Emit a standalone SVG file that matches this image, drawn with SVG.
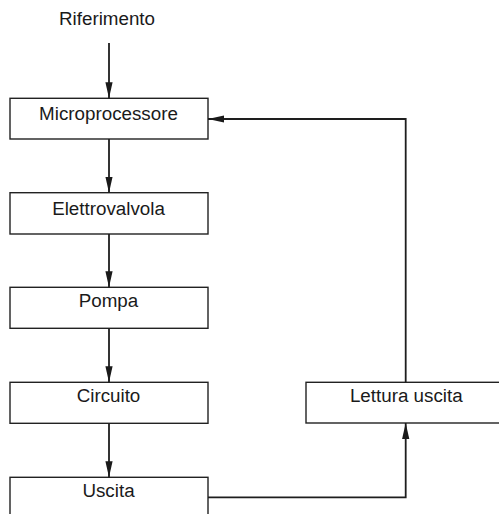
<svg xmlns="http://www.w3.org/2000/svg" width="499" height="514" viewBox="0 0 499 514">
  <style>
    .box { fill: #ffffff; stroke: #222222; stroke-width: 1.4; }
    .label { font-family: "Liberation Sans", Arial, Helvetica, sans-serif; font-size: 18.8px; fill: #1a1a1a; text-anchor: middle; }
    .wire { fill: none; stroke: #1e1e1e; stroke-width: 1.8; }
  </style>
  <defs>
    <marker id="arrow" markerUnits="userSpaceOnUse" markerWidth="17" markerHeight="8" refX="16" refY="3.6" orient="auto">
      <path d="M0,0 L16,3.6 L0,7.2 z" fill="#1a1a1a"/>
    </marker>
  </defs>

  <rect width="499" height="514" fill="#ffffff"/>

  <!-- input label -->
  <g id="riferimento">
    <text class="label" x="107" y="25">Riferimento</text>
  </g>

  <!-- signal chain -->
  <g id="microprocessore">
    <rect class="box" x="10" y="98.3" width="198" height="40.7"/>
    <text class="label" x="108.5" y="120">Microprocessore</text>
  </g>
  <g id="elettrovalvola">
    <rect class="box" x="10" y="192.7" width="198" height="41.3"/>
    <text class="label" x="108.5" y="215">Elettrovalvola</text>
  </g>
  <g id="pompa">
    <rect class="box" x="10" y="287.3" width="198" height="41"/>
    <text class="label" x="108.5" y="307.3">Pompa</text>
  </g>
  <g id="circuito">
    <rect class="box" x="10" y="382.3" width="198" height="41"/>
    <text class="label" x="108.5" y="402">Circuito</text>
  </g>
  <g id="uscita">
    <rect class="box" x="10" y="477.3" width="198" height="45"/>
    <text class="label" x="108.5" y="497.3">Uscita</text>
  </g>
  <g id="lettura-uscita">
    <rect class="box" x="306" y="382.3" width="200" height="40.7"/>
    <text class="label" x="406.3" y="402">Lettura uscita</text>
  </g>

  <!-- connectors -->
  <g id="connectors">
    <line class="wire" x1="109" y1="43" x2="109" y2="98.3" marker-end="url(#arrow)"/>
    <line class="wire" x1="109" y1="139" x2="109" y2="192.7" marker-end="url(#arrow)"/>
    <line class="wire" x1="109" y1="234" x2="109" y2="287.3" marker-end="url(#arrow)"/>
    <line class="wire" x1="109" y1="328.3" x2="109" y2="382.3" marker-end="url(#arrow)"/>
    <line class="wire" x1="109" y1="423.3" x2="109" y2="477.3" marker-end="url(#arrow)"/>
    <polyline class="wire" points="208,497.3 405.7,497.3 405.7,423" marker-end="url(#arrow)"/>
    <polyline class="wire" points="405.7,382.3 405.7,119 208,119" marker-end="url(#arrow)"/>
  </g>
</svg>
